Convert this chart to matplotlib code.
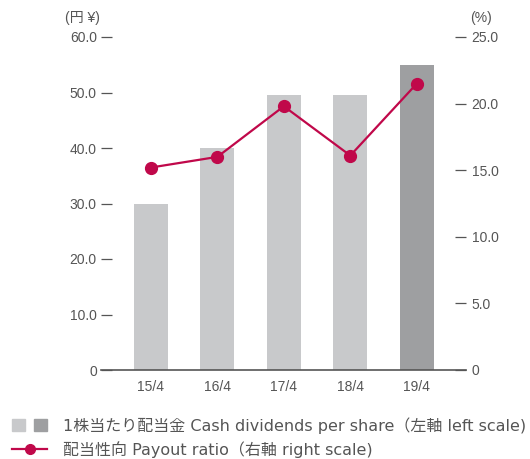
import matplotlib
matplotlib.use('Agg')
from matplotlib import pyplot as plt
from matplotlib.legend_handler import HandlerTuple
from matplotlib.patches import Patch
from matplotlib.lines import Line2D
import numpy as np

# data
years = ['15/4', '16/4', '17/4', '18/4', '19/4']
dividends = [30.0, 40.0, 49.5, 49.5, 55.0]      # yen, left scale
payout = [15.2, 16.0, 19.8, 16.1, 21.5]         # %, right scale
left_ticks = [0, 10, 20, 30, 40, 50, 60]
right_ticks = [0, 5, 10, 15, 20, 25]

LIGHT = '#c8c9cb'
DARK = '#9e9fa1'
RED = '#c0084a'
TXT = '#555555'

plt.rcParams['font.family'] = ['Liberation Sans', 'Noto Sans CJK JP']
plt.rcParams['font.size'] = 10


def main():
    fig = plt.figure(figsize=(5.3, 4.59), dpi=100)
    ax = fig.add_axes([101 / 530, 1 - 370 / 459, 365 / 530, 333 / 459])
    ax2 = ax.twinx()

    x = np.arange(len(years))
    colors = [LIGHT] * (len(years) - 1) + [DARK]
    ax.bar(x, dividends, width=0.51, color=colors, zorder=2)
    ax2.plot(x, payout, color=RED, lw=1.6, marker='o', ms=8.5, zorder=3)

    ax.set_xlim(-0.75, 4.74)
    ax.set_ylim(0, 60)
    ax2.set_ylim(0, 25)

    for a in (ax, ax2):
        for s in a.spines.values():
            s.set_visible(False)
    ax.spines['bottom'].set_visible(True)
    ax.spines['bottom'].set_color(TXT)
    ax.spines['bottom'].set_linewidth(1.2)

    ax.set_xticks(x)
    ax.set_xticklabels(years, color=TXT)
    ax.tick_params(axis='x', length=0, pad=7)

    # dashes next to the numbers are inward ticks
    ax.set_yticks(left_ticks)
    ax.set_yticklabels(['0'] + ['%.1f' % v for v in left_ticks[1:]], color=TXT)
    ax.tick_params(axis='y', direction='in', length=8, width=0.9, color=TXT, pad=3)
    ax2.set_yticks(right_ticks)
    ax2.set_yticklabels(['0'] + ['%.1f' % v for v in right_ticks[1:]], color=TXT)
    ax2.tick_params(axis='y', direction='in', length=8, width=0.9, color=TXT, pad=4)

    fig.text(65 / 530, 1 - 18 / 459, '(円 ¥)', color=TXT, va='center', ha='left')
    fig.text(470 / 530, 1 - 18 / 459, '(%)', color=TXT, va='center', ha='left')

    handles = [(Patch(color=LIGHT), Patch(color=DARK)),
               Line2D([], [], color=RED, lw=1.6, marker='o', ms=7)]
    labels = ['1株当たり配当金 Cash dividends per share（左軸 left scale)',
              '配当性向 Payout ratio（右軸 right scale)']
    fig.legend(handles, labels, loc='upper left', bbox_to_anchor=(12 / 530, 1 - 417 / 459),
               frameon=False, handler_map={tuple: HandlerTuple(ndivide=None, pad=0.6)},
               prop={'family': ['DejaVu Sans', 'Noto Sans CJK JP'], 'size': 11.5},
               labelcolor=TXT, handlelength=2.2, handleheight=0.75,
               handletextpad=1.0, labelspacing=0.45, borderaxespad=0.0, borderpad=0.0)

    plt.savefig('out.png', dpi=100)


if __name__ == '__main__':
    main()
